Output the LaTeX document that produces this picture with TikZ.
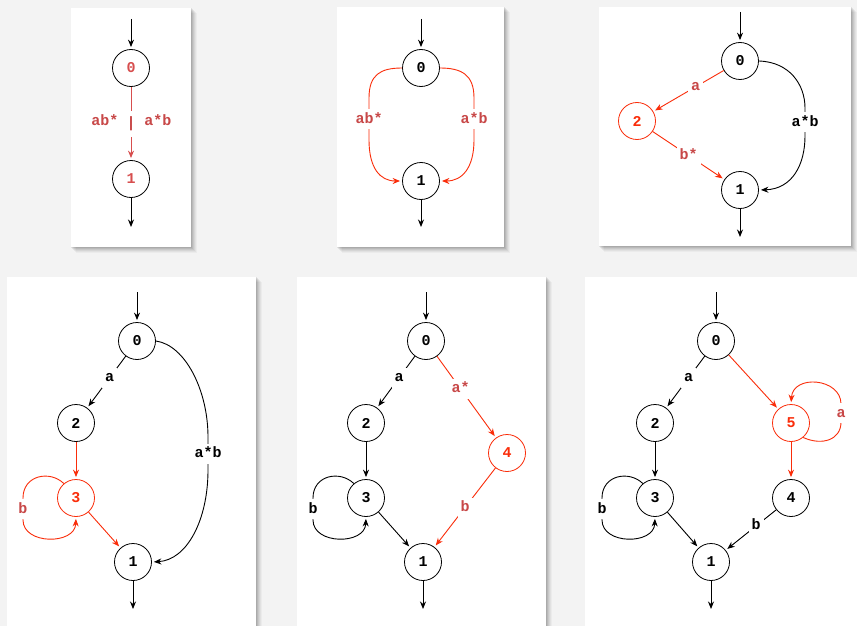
\documentclass[tikz,border=0pt]{standalone}
\usepackage{fontspec}
\setmonofont{Liberation Mono}
\usetikzlibrary{arrows.meta}
\definecolor{bgc}{RGB}{243,243,243}
\definecolor{ered}{RGB}{250,45,10}
\definecolor{lred}{RGB}{200,72,72}
\definecolor{mred}{RGB}{215,78,78}
\newcommand\mypanel[4]{%
  \foreach \sh/\op in {6/0.03,5/0.04,4/0.05,3/0.06,2/0.07,1/0.08}
    {\fill[black,opacity=\op] (#1+\sh-1,#2+\sh-1) rectangle (#3+\sh,#4+\sh);}
  \fill[white] (#1,#2) rectangle (#3,#4);}
\tikzset{
  st/.style={circle,draw=black,line width=0.8pt,minimum size=37pt,inner sep=0pt,
    font=\ttfamily\bfseries\fontsize{15}{15}\selectfont},
  rst/.style={st,draw=ered,text=ered},
  lbl/.style={font=\ttfamily\bfseries\fontsize{15}{15}\selectfont,fill=white,
    inner xsep=3pt,inner ysep=5pt,text height=9pt,text depth=1pt},
  rlbl/.style={lbl,text=lred},
  arr/.style={-{Stealth[length=7.5pt,width=6pt]},line width=0.9pt,shorten >=2pt},
  redarr/.style={arr,draw=ered},
}
\begin{document}
\begin{tikzpicture}[x=1pt,y=-1pt]
\useasboundingbox (0,0) rectangle (857,626);
\clip (0,0) rectangle (857,626);
\fill[bgc] (0,0) rectangle (857,626);
\mypanel{71}{8}{191}{247}
\mypanel{337}{7}{504}{247}
\mypanel{599}{7}{851}{246}
\mypanel{7}{277}{256}{640}
\mypanel{297}{277}{546}{640}
\mypanel{585}{277}{870}{640}

% ---------- panel 1
\node[st,text=mred] (p1a) at (131,68) {0};
\node[st,text=mred] (p1b) at (131,179) {1};
\coordinate (p1in) at (131,19);
\coordinate (p1out) at (131,229);
\draw[arr] (p1in) -- (p1a);
\draw[arr] (p1b) -- (p1out);
\draw[arr,draw=mred] (p1a) -- node[lbl,text=lred,minimum height=26pt] (p1bar) {|} (p1b);
\node[lbl,text=lred] (p1l) at (105,121) {ab*};
\node[lbl,text=lred] (p1r) at (158,121) {a*b};

% ---------- panel 2
\node[st] (p2a) at (421,68) {0};
\node[st] (p2b) at (421,181) {1};
\coordinate (p2in) at (421,19);
\coordinate (p2out) at (421,229);
\draw[arr] (p2in) -- (p2a);
\draw[arr] (p2b) -- (p2out);
\draw[redarr] (p2a.west) .. controls (380,68) and (369,75) .. (369,98)
  -- node[rlbl] (p2l) {ab*} (369,140) .. controls (369,168) and (380,181) .. (p2b.west);
\draw[redarr] (p2a.east) .. controls (462,68) and (474,75) .. (474,98)
  -- node[rlbl] (p2r) {a*b} (474,140) .. controls (474,168) and (462,181) .. (p2b.east);

% ---------- panel 3
\node[st] (p3a) at (740,61) {0};
\node[rst] (p3c) at (637,121) {2};
\node[st] (p3b) at (740,190) {1};
\coordinate (p3in) at (740,12);
\coordinate (p3out) at (740,239);
\draw[arr] (p3in) -- (p3a);
\draw[arr] (p3b) -- (p3out);
\draw[redarr] (p3a) -- node[rlbl,pos=0.4] (p3l1) {a} (p3c);
\draw[redarr] (p3c) -- node[rlbl] (p3l2) {b*} (p3b);
\draw[arr] (p3a.east) .. controls (790,62) and (805,85) .. (805,108)
  -- node[lbl] (p3l3) {a*b} (805,136) .. controls (805,165) and (792,189) .. (p3b.east);

% ---------- panel 4
\node[st] (p4a) at (137,341) {0};
\node[st] (p4c) at (76,423) {2};
\node[rst] (p4d) at (76,498) {3};
\node[st] (p4b) at (133,562) {1};
\coordinate (p4in) at (137,292);
\coordinate (p4out) at (133,611);
\draw[arr] (p4in) -- (p4a);
\draw[arr] (p4b) -- (p4out);
\draw[arr] (p4a) -- node[lbl,pos=0.42] (p4l1) {a} (p4c);
\draw[redarr] (p4c) -- (p4d);
\draw[redarr] (p4d) -- (p4b);
\draw[redarr] (p4d.130) .. controls (50,470) and (23,475) .. (23,498)
  -- node[rlbl] (p4l2) {b} (23,520) .. controls (23,545) and (75,545) .. (p4d.south);
\draw[arr] (p4a.east) .. controls (185,345) and (208,390) .. (208,437)
  -- node[lbl] (p4l3) {a*b} (208,470) .. controls (208,520) and (187,560) .. (p4b.east);

% ---------- panel 5
\node[st] (p5a) at (426,341) {0};
\node[st] (p5c) at (366,423) {2};
\node[st] (p5d) at (366,498) {3};
\node[st] (p5b) at (423,562) {1};
\node[rst] (p5e) at (507,453) {4};
\coordinate (p5in) at (426,292);
\coordinate (p5out) at (423,611);
\draw[arr] (p5in) -- (p5a);
\draw[arr] (p5b) -- (p5out);
\draw[arr] (p5a) -- node[lbl,pos=0.42] (p5l1) {a} (p5c);
\draw[arr] (p5c) -- (p5d);
\draw[arr] (p5d) -- (p5b);
\draw[arr] (p5d.130) .. controls (340,470) and (313,475) .. (313,498)
  -- node[lbl] (p5l2) {b} (313,520) .. controls (313,545) and (365,545) .. (p5d.south);
\draw[redarr] (p5a) -- node[rlbl,pos=0.4] (p5l3) {a*} (p5e);
\draw[redarr] (p5e) -- node[rlbl] (p5l4) {b} (p5b);

% ---------- panel 6
\node[st] (p6a) at (716,341) {0};
\node[st] (p6c) at (655,423) {2};
\node[st] (p6d) at (655,498) {3};
\node[st] (p6b) at (711,562) {1};
\node[rst] (p6f) at (791,423) {5};
\node[st] (p6e) at (791,498) {4};
\coordinate (p6in) at (716,292);
\coordinate (p6out) at (711,611);
\draw[arr] (p6in) -- (p6a);
\draw[arr] (p6b) -- (p6out);
\draw[arr] (p6a) -- node[lbl,pos=0.42] (p6l1) {a} (p6c);
\draw[arr] (p6c) -- (p6d);
\draw[arr] (p6d) -- (p6b);
\draw[arr] (p6d.130) .. controls (629,470) and (602,475) .. (602,498)
  -- node[lbl] (p6l2) {b} (602,520) .. controls (602,545) and (654,545) .. (p6d.south);
\draw[redarr] (p6a) -- (p6f);
\draw[redarr] (p6f) -- (p6e);
\draw[arr] (p6e) -- node[lbl,pos=0.4] (p6l3) {b} (p6b);
\draw[redarr] (p6f.-50) .. controls (822,446) and (841,440) .. (841,422)
  -- node[rlbl] (p6l4) {a} (841,404) .. controls (841,378) and (793,374) .. (p6f.north);
\end{tikzpicture}
\end{document}
